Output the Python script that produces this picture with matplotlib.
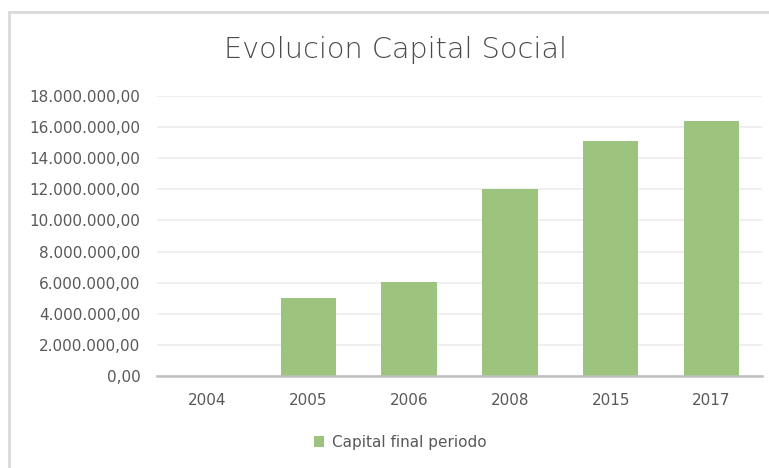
import matplotlib
matplotlib.use("Agg")
import matplotlib.pyplot as plt
from matplotlib.patches import Rectangle, Patch
from matplotlib.ticker import FuncFormatter

years = ["2004", "2005", "2006", "2008", "2015", "2017"]
capital = [0, 5000000, 6030000, 12000000, 15100000, 16370000]
series_name = "Capital final periodo"
title = "Evolucion Capital Social"

W, H = 769, 468
fig = plt.figure(figsize=(W / 100, H / 100), dpi=100)
fig.patch.set_facecolor("white")

# chart border
fig.patches.append(Rectangle((8.5 / W, -0.1), 1.2, (H - 11.5) / H + 0.1,
                             transform=fig.transFigure, fill=False,
                             edgecolor="#d9d9d9", linewidth=2))

left, right, bottom, top = 157, 762, 376, 96
ax = fig.add_axes([left / W, 1 - bottom / H, (right - left) / W, (bottom - top) / H])

gray = "#595959"
font = "DejaVu Sans"

x = range(len(years))
ax.bar(x, capital, width=0.55, color="#9CC47E", zorder=3)
ax.set_xlim(-0.5, len(years) - 0.5)
ax.set_ylim(0, 18000000)
ax.set_yticks(range(0, 18000001, 2000000))

def fmt(v, pos):
    s = f"{v:,.2f}"
    return s.replace(",", "X").replace(".", ",").replace("X", ".")

ax.yaxis.set_major_formatter(FuncFormatter(fmt))
ax.set_xticks(list(x))
ax.set_xticklabels(years)
ax.grid(axis="y", color="#ececec", linewidth=1.2, zorder=0)
for s in ["top", "right", "left"]:
    ax.spines[s].set_visible(False)
ax.spines["bottom"].set_color("#bfbfbf")
ax.spines["bottom"].set_linewidth(1.8)
ax.spines["bottom"].set_zorder(4)
ax.tick_params(axis="both", length=0, labelsize=11, labelcolor=gray)
ax.tick_params(axis="y", pad=12)
ax.tick_params(axis="x", pad=12)
for lab in ax.get_xticklabels() + ax.get_yticklabels():
    lab.set_fontfamily(font)

fig.text(396 / W, 1 - 50 / H, title, ha="center", va="center",
         fontsize=20.7, color="#4a4a4a", family=font, fontweight="light")

leg = fig.legend(handles=[Patch(facecolor="#9CC47E", label=series_name)],
                 loc="center", bbox_to_anchor=(400 / W, 1 - 442 / H),
                 frameon=False, handlelength=0.7, handleheight=0.7,
                 handletextpad=0.5, prop={"family": font, "size": 11})
for t in leg.get_texts():
    t.set_color(gray)

fig.savefig("out.png", dpi=100)
